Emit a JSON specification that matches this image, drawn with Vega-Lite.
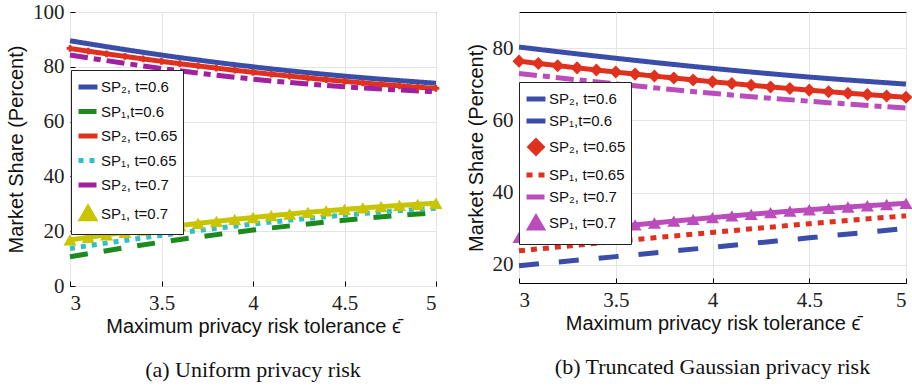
{
  "$schema": "https://vega.github.io/schema/vega-lite/v6.json",
  "padding": {"top": 0, "left": 6, "right": 2, "bottom": 4},
  "spacing": 18,
  "datasets": {
    "left": [
      {"x": 3, "y": 89.5, "s": "SP₂, t=0.6"}, {"x": 3.5, "y": 84.3, "s": "SP₂, t=0.6"}, {"x": 4, "y": 80, "s": "SP₂, t=0.6"}, {"x": 4.5, "y": 76.6, "s": "SP₂, t=0.6"}, {"x": 5, "y": 74, "s": "SP₂, t=0.6"},
      {"x": 3, "y": 10.7, "s": "SP₁,t=0.6"}, {"x": 3.5, "y": 16.0, "s": "SP₁,t=0.6"}, {"x": 4, "y": 20.4, "s": "SP₁,t=0.6"}, {"x": 4.5, "y": 24.0, "s": "SP₁,t=0.6"}, {"x": 5, "y": 26.8, "s": "SP₁,t=0.6"},
      {"x": 3, "y": 86.7, "s": "SP₂, t=0.65"}, {"x": 3.1, "y": 85.7, "s": "SP₂, t=0.65"}, {"x": 3.2, "y": 84.74, "s": "SP₂, t=0.65"}, {"x": 3.3, "y": 83.8, "s": "SP₂, t=0.65"}, {"x": 3.4, "y": 82.88, "s": "SP₂, t=0.65"}, {"x": 3.5, "y": 82.0, "s": "SP₂, t=0.65"}, {"x": 3.6, "y": 81.14, "s": "SP₂, t=0.65"}, {"x": 3.7, "y": 80.32, "s": "SP₂, t=0.65"}, {"x": 3.8, "y": 79.52, "s": "SP₂, t=0.65"}, {"x": 3.9, "y": 78.74, "s": "SP₂, t=0.65"}, {"x": 4, "y": 78.0, "s": "SP₂, t=0.65"}, {"x": 4.1, "y": 77.28, "s": "SP₂, t=0.65"}, {"x": 4.2, "y": 76.6, "s": "SP₂, t=0.65"}, {"x": 4.3, "y": 75.94, "s": "SP₂, t=0.65"}, {"x": 4.4, "y": 75.3, "s": "SP₂, t=0.65"}, {"x": 4.5, "y": 74.7, "s": "SP₂, t=0.65"}, {"x": 4.6, "y": 74.12, "s": "SP₂, t=0.65"}, {"x": 4.7, "y": 73.58, "s": "SP₂, t=0.65"}, {"x": 4.8, "y": 73.06, "s": "SP₂, t=0.65"}, {"x": 4.9, "y": 72.56, "s": "SP₂, t=0.65"}, {"x": 5, "y": 72.1, "s": "SP₂, t=0.65"},
      {"x": 3, "y": 13.7, "s": "SP₁, t=0.65"}, {"x": 3.5, "y": 18.5, "s": "SP₁, t=0.65"}, {"x": 4, "y": 22.6, "s": "SP₁, t=0.65"}, {"x": 4.5, "y": 25.9, "s": "SP₁, t=0.65"}, {"x": 5, "y": 28.4, "s": "SP₁, t=0.65"},
      {"x": 3, "y": 84.3, "s": "SP₂, t=0.7"}, {"x": 3.5, "y": 79.4, "s": "SP₂, t=0.7"}, {"x": 4, "y": 75.5, "s": "SP₂, t=0.7"}, {"x": 4.5, "y": 72.7, "s": "SP₂, t=0.7"}, {"x": 5, "y": 70.9, "s": "SP₂, t=0.7"},
      {"x": 3, "y": 16.8, "s": "SP₁, t=0.7"}, {"x": 3.1, "y": 17.76, "s": "SP₁, t=0.7"}, {"x": 3.2, "y": 18.68, "s": "SP₁, t=0.7"}, {"x": 3.3, "y": 19.58, "s": "SP₁, t=0.7"}, {"x": 3.4, "y": 20.44, "s": "SP₁, t=0.7"}, {"x": 3.5, "y": 21.28, "s": "SP₁, t=0.7"}, {"x": 3.6, "y": 22.08, "s": "SP₁, t=0.7"}, {"x": 3.7, "y": 22.86, "s": "SP₁, t=0.7"}, {"x": 3.8, "y": 23.6, "s": "SP₁, t=0.7"}, {"x": 3.9, "y": 24.32, "s": "SP₁, t=0.7"}, {"x": 4, "y": 25.0, "s": "SP₁, t=0.7"}, {"x": 4.1, "y": 25.66, "s": "SP₁, t=0.7"}, {"x": 4.2, "y": 26.28, "s": "SP₁, t=0.7"}, {"x": 4.3, "y": 26.88, "s": "SP₁, t=0.7"}, {"x": 4.4, "y": 27.44, "s": "SP₁, t=0.7"}, {"x": 4.5, "y": 27.98, "s": "SP₁, t=0.7"}, {"x": 4.6, "y": 28.48, "s": "SP₁, t=0.7"}, {"x": 4.7, "y": 28.96, "s": "SP₁, t=0.7"}, {"x": 4.8, "y": 29.4, "s": "SP₁, t=0.7"}, {"x": 4.9, "y": 29.82, "s": "SP₁, t=0.7"}, {"x": 5, "y": 30.2, "s": "SP₁, t=0.7"}
    ],
    "right": [
      {"x": 3, "y": 80.3, "s": "SP₂, t=0.6"}, {"x": 3.5, "y": 77.2, "s": "SP₂, t=0.6"}, {"x": 4, "y": 74.4, "s": "SP₂, t=0.6"}, {"x": 4.5, "y": 72.0, "s": "SP₂, t=0.6"}, {"x": 5, "y": 70.05, "s": "SP₂, t=0.6"},
      {"x": 3, "y": 19.8, "s": "SP₁,t=0.6"}, {"x": 3.5, "y": 22.3, "s": "SP₁,t=0.6"}, {"x": 4, "y": 24.9, "s": "SP₁,t=0.6"}, {"x": 4.5, "y": 27.5, "s": "SP₁,t=0.6"}, {"x": 5, "y": 30.1, "s": "SP₁,t=0.6"},
      {"x": 3, "y": 76.4, "s": "SP₂, t=0.65"}, {"x": 3.1, "y": 75.77, "s": "SP₂, t=0.65"}, {"x": 3.2, "y": 75.15, "s": "SP₂, t=0.65"}, {"x": 3.3, "y": 74.54, "s": "SP₂, t=0.65"}, {"x": 3.4, "y": 73.95, "s": "SP₂, t=0.65"}, {"x": 3.5, "y": 73.38, "s": "SP₂, t=0.65"}, {"x": 3.6, "y": 72.81, "s": "SP₂, t=0.65"}, {"x": 3.7, "y": 72.26, "s": "SP₂, t=0.65"}, {"x": 3.8, "y": 71.73, "s": "SP₂, t=0.65"}, {"x": 3.9, "y": 71.21, "s": "SP₂, t=0.65"}, {"x": 4, "y": 70.7, "s": "SP₂, t=0.65"}, {"x": 4.1, "y": 70.21, "s": "SP₂, t=0.65"}, {"x": 4.2, "y": 69.73, "s": "SP₂, t=0.65"}, {"x": 4.3, "y": 69.26, "s": "SP₂, t=0.65"}, {"x": 4.4, "y": 68.81, "s": "SP₂, t=0.65"}, {"x": 4.5, "y": 68.38, "s": "SP₂, t=0.65"}, {"x": 4.6, "y": 67.95, "s": "SP₂, t=0.65"}, {"x": 4.7, "y": 67.54, "s": "SP₂, t=0.65"}, {"x": 4.8, "y": 67.15, "s": "SP₂, t=0.65"}, {"x": 4.9, "y": 66.77, "s": "SP₂, t=0.65"}, {"x": 5, "y": 66.4, "s": "SP₂, t=0.65"},
      {"x": 3, "y": 23.9, "s": "SP₁, t=0.65"}, {"x": 3.5, "y": 26.5, "s": "SP₁, t=0.65"}, {"x": 4, "y": 29.0, "s": "SP₁, t=0.65"}, {"x": 4.5, "y": 31.4, "s": "SP₁, t=0.65"}, {"x": 5, "y": 33.6, "s": "SP₁, t=0.65"},
      {"x": 3, "y": 73.0, "s": "SP₂, t=0.7"}, {"x": 3.5, "y": 70.1, "s": "SP₂, t=0.7"}, {"x": 4, "y": 67.5, "s": "SP₂, t=0.7"}, {"x": 4.5, "y": 65.3, "s": "SP₂, t=0.7"}, {"x": 5, "y": 63.4, "s": "SP₂, t=0.7"},
      {"x": 3, "y": 27.6, "s": "SP₁, t=0.7"}, {"x": 3.1, "y": 28.22, "s": "SP₁, t=0.7"}, {"x": 3.2, "y": 28.82, "s": "SP₁, t=0.7"}, {"x": 3.3, "y": 29.41, "s": "SP₁, t=0.7"}, {"x": 3.4, "y": 29.99, "s": "SP₁, t=0.7"}, {"x": 3.5, "y": 30.54, "s": "SP₁, t=0.7"}, {"x": 3.6, "y": 31.09, "s": "SP₁, t=0.7"}, {"x": 3.7, "y": 31.61, "s": "SP₁, t=0.7"}, {"x": 3.8, "y": 32.12, "s": "SP₁, t=0.7"}, {"x": 3.9, "y": 32.62, "s": "SP₁, t=0.7"}, {"x": 4, "y": 33.1, "s": "SP₁, t=0.7"}, {"x": 4.1, "y": 33.56, "s": "SP₁, t=0.7"}, {"x": 4.2, "y": 34.01, "s": "SP₁, t=0.7"}, {"x": 4.3, "y": 34.45, "s": "SP₁, t=0.7"}, {"x": 4.4, "y": 34.87, "s": "SP₁, t=0.7"}, {"x": 4.5, "y": 35.27, "s": "SP₁, t=0.7"}, {"x": 4.6, "y": 35.66, "s": "SP₁, t=0.7"}, {"x": 4.7, "y": 36.03, "s": "SP₁, t=0.7"}, {"x": 4.8, "y": 36.38, "s": "SP₁, t=0.7"}, {"x": 4.9, "y": 36.72, "s": "SP₁, t=0.7"}, {"x": 5, "y": 37.05, "s": "SP₁, t=0.7"}
    ]
  },
  "config": {
    "view": {"stroke": "#000", "strokeWidth": 1},
    "axis": {"domain": false, "grid": true, "gridColor": "#e4e4e4", "gridWidth": 1, "tickColor": "#000", "tickSize": -5, "labelFont": "Liberation Serif", "labelFontSize": 21, "labelColor": "#222", "labelPadding": 11, "titleFont": "Liberation Sans", "titleFontSize": 20, "titleFontWeight": "normal", "titleColor": "#111"},
    "legend": {"fillColor": "white", "strokeColor": "#222", "padding": 5, "labelFont": "Liberation Sans", "labelFontSize": 15, "labelColor": "#111", "symbolSize": 360, "symbolStrokeWidth": 5, "labelOffset": 1, "title": null},
    "title": {"font": "Liberation Serif", "fontSize": 22, "fontWeight": "normal", "color": "#111"}
  },
  "resolve": {"scale": {"color": "independent", "strokeDash": "independent", "shape": "independent", "x": "independent", "y": "independent"}, "legend": {"color": "independent", "strokeDash": "independent", "shape": "independent"}},
  "hconcat": [
    {
      "width": 366, "height": 274,
      "data": {"name": "left"},
      "title": {"text": "(a)  Uniform privacy risk", "orient": "bottom", "offset": 24},
      "layer": [
        {
          "mark": {"type": "line", "strokeWidth": 5, "interpolate": "monotone"},
          "encoding": {
            "x": {"field": "x", "type": "quantitative", "scale": {"domain": [3, 5], "nice": false}, "axis": {"values": [3, 3.5, 4, 4.5, 5], "format": "~g", "title": "Maximum privacy risk tolerance ϵ̄", "titlePadding": 3}},
            "y": {"field": "y", "type": "quantitative", "scale": {"domain": [0, 100], "nice": false}, "axis": {"values": [0, 20, 40, 60, 80, 100], "title": "Market Share (Percent)", "titlePadding": 6}},
            "color": {"field": "s", "type": "nominal", "scale": {"domain": ["SP₂, t=0.6", "SP₁,t=0.6", "SP₂, t=0.65", "SP₁, t=0.65", "SP₂, t=0.7", "SP₁, t=0.7"], "range": ["#3a4da8", "#1c8a1c", "#e0301e", "#2fc0c8", "#a0209f", "#c8c400"]}, "legend": {"orient": "none", "legendX": 1, "legendY": 58, "rowPadding": 2.5, "encode": {"symbols": {"update": {"size": {"signal": "datum.label == 'SP₁, t=0.7' ? 150 : 360"}, "strokeDash": {"signal": "datum.label == 'SP₁,t=0.6' ? [8,3] : datum.label == 'SP₁, t=0.65' ? [5,5] : [1,0]"}}}}}},
            "strokeDash": {"field": "s", "type": "nominal", "scale": {"domain": ["SP₂, t=0.6", "SP₁,t=0.6", "SP₂, t=0.65", "SP₁, t=0.65", "SP₂, t=0.7", "SP₁, t=0.7"], "range": [[1, 0], [18, 16], [1, 0], [5, 6], [18, 6, 7, 6], [1, 0]]}, "legend": {"orient": "none", "legendX": 1, "legendY": 58, "rowPadding": 2.5, "encode": {"symbols": {"update": {"size": {"signal": "datum.label == 'SP₁, t=0.7' ? 150 : 360"}, "strokeDash": {"signal": "datum.label == 'SP₁,t=0.6' ? [8,3] : datum.label == 'SP₁, t=0.65' ? [5,5] : [1,0]"}}}}}}
          }
        },
        {
          "transform": [{"filter": {"field": "s", "equal": "SP₁, t=0.7"}}],
          "mark": {"type": "point", "filled": true, "size": 170, "opacity": 1},
          "encoding": {
            "x": {"field": "x", "type": "quantitative"},
            "y": {"field": "y", "type": "quantitative"},
            "color": {"field": "s", "type": "nominal"},
            "shape": {"field": "s", "type": "nominal", "scale": {"domain": ["SP₂, t=0.6", "SP₁,t=0.6", "SP₂, t=0.65", "SP₁, t=0.65", "SP₂, t=0.7", "SP₁, t=0.7"], "range": ["stroke", "stroke", "stroke", "stroke", "stroke", "triangle-up"]}, "legend": {"orient": "none", "legendX": 1, "legendY": 58, "rowPadding": 2.5, "encode": {"symbols": {"update": {"size": {"signal": "datum.label == 'SP₁, t=0.7' ? 150 : 360"}, "strokeDash": {"signal": "datum.label == 'SP₁,t=0.6' ? [8,3] : datum.label == 'SP₁, t=0.65' ? [5,5] : [1,0]"}}}}}}
          }
        },
        {
          "transform": [{"filter": {"field": "s", "equal": "SP₂, t=0.65"}}],
          "mark": {"type": "point", "shape": "cross", "filled": true, "size": 45, "opacity": 1},
          "encoding": {
            "x": {"field": "x", "type": "quantitative"},
            "y": {"field": "y", "type": "quantitative"},
            "color": {"field": "s", "type": "nominal"}
          }
        }
      ]
    },
    {
      "width": 387, "height": 271,
      "data": {"name": "right"},
      "title": {"text": "(b) Truncated Gaussian privacy risk", "orient": "bottom", "offset": 24},
      "layer": [
        {
          "mark": {"type": "line", "strokeWidth": 5, "interpolate": "monotone"},
          "encoding": {
            "x": {"field": "x", "type": "quantitative", "scale": {"domain": [3, 5], "nice": false}, "axis": {"values": [3, 3.5, 4, 4.5, 5], "format": "~g", "title": "Maximum privacy risk tolerance ϵ̄", "titlePadding": 3}},
            "y": {"field": "y", "type": "quantitative", "scale": {"domain": [15, 90], "nice": false}, "axis": {"values": [20, 40, 60, 80], "title": "Market Share (Percent)", "titlePadding": 6}},
            "color": {"field": "s", "type": "nominal", "scale": {"domain": ["SP₂, t=0.6", "SP₁,t=0.6", "SP₂, t=0.65", "SP₁, t=0.65", "SP₂, t=0.7", "SP₁, t=0.7"], "range": ["#3a4da8", "#3a4da8", "#e0301e", "#e0301e", "#bb4cbb", "#bb4cbb"]}, "legend": {"orient": "none", "legendX": 0, "legendY": 70, "rowPadding": 0, "encode": {"symbols": {"update": {"size": {"signal": "datum.label == 'SP₁, t=0.7' || datum.label == 'SP₂, t=0.65' ? 140 : 360"}, "strokeDash": {"signal": "datum.label == 'SP₁,t=0.6' ? [8,3] : datum.label == 'SP₁, t=0.65' ? [5,5] : [1,0]"}}}}}},
            "strokeDash": {"field": "s", "type": "nominal", "scale": {"domain": ["SP₂, t=0.6", "SP₁,t=0.6", "SP₂, t=0.65", "SP₁, t=0.65", "SP₂, t=0.7", "SP₁, t=0.7"], "range": [[1, 0], [20, 20], [1, 0], [6, 6], [18, 6, 7, 6], [1, 0]]}, "legend": {"orient": "none", "legendX": 0, "legendY": 70, "rowPadding": 0, "encode": {"symbols": {"update": {"size": {"signal": "datum.label == 'SP₁, t=0.7' || datum.label == 'SP₂, t=0.65' ? 140 : 360"}, "strokeDash": {"signal": "datum.label == 'SP₁,t=0.6' ? [8,3] : datum.label == 'SP₁, t=0.65' ? [5,5] : [1,0]"}}}}}}
          }
        },
        {
          "transform": [{"filter": {"field": "s", "oneOf": ["SP₂, t=0.65", "SP₁, t=0.7"]}}],
          "mark": {"type": "point", "filled": true, "size": 170, "opacity": 1},
          "encoding": {
            "x": {"field": "x", "type": "quantitative"},
            "y": {"field": "y", "type": "quantitative"},
            "color": {"field": "s", "type": "nominal"},
            "shape": {"field": "s", "type": "nominal", "scale": {"domain": ["SP₂, t=0.6", "SP₁,t=0.6", "SP₂, t=0.65", "SP₁, t=0.65", "SP₂, t=0.7", "SP₁, t=0.7"], "range": ["stroke", "stroke", "diamond", "stroke", "stroke", "triangle-up"]}, "legend": {"orient": "none", "legendX": 0, "legendY": 70, "rowPadding": 0, "encode": {"symbols": {"update": {"size": {"signal": "datum.label == 'SP₁, t=0.7' || datum.label == 'SP₂, t=0.65' ? 140 : 360"}, "strokeDash": {"signal": "datum.label == 'SP₁,t=0.6' ? [8,3] : datum.label == 'SP₁, t=0.65' ? [5,5] : [1,0]"}}}}}}
          }
        }
      ]
    }
  ]
}
